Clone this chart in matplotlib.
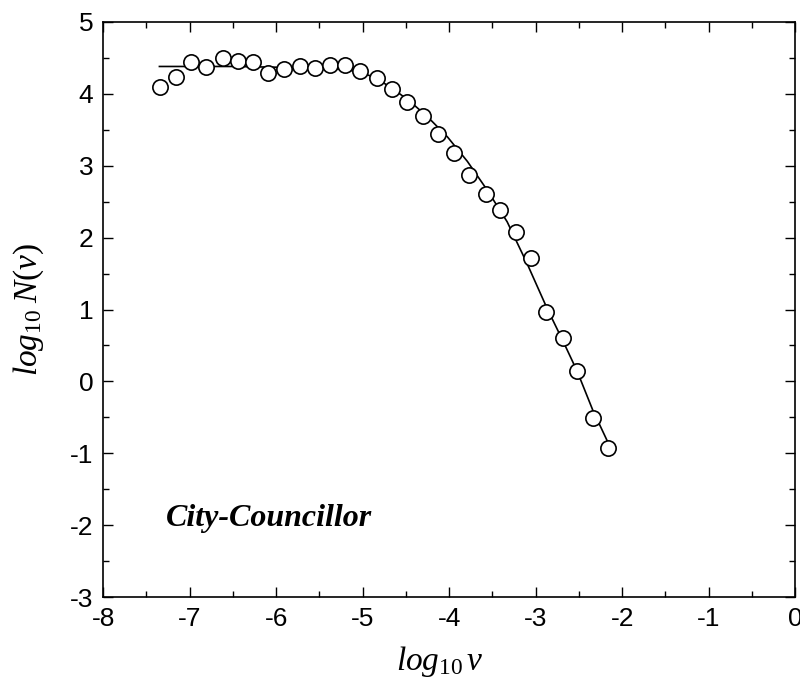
import matplotlib
matplotlib.use("Agg")
import matplotlib.pyplot as plt
from matplotlib.ticker import MultipleLocator

plt.rcParams["font.family"] = "Liberation Sans"
plt.rcParams["axes.unicode_minus"] = False
plt.rcParams["mathtext.fontset"] = "custom"
plt.rcParams["mathtext.it"] = "Liberation Serif:italic"
plt.rcParams["mathtext.rm"] = "Liberation Serif"

# binned vote distribution (open circles)
log_v = [-7.34, -7.16, -6.98, -6.81, -6.62, -6.44, -6.27, -6.09, -5.91, -5.72,
         -5.55, -5.38, -5.20, -5.03, -4.84, -4.66, -4.49, -4.30, -4.13, -3.94,
         -3.77, -3.58, -3.41, -3.23, -3.05, -2.88, -2.69, -2.52, -2.34, -2.16]
log_N = [4.10, 4.24, 4.44, 4.37, 4.50, 4.45, 4.44, 4.29, 4.35, 4.39,
         4.36, 4.40, 4.40, 4.32, 4.22, 4.07, 3.89, 3.69, 3.44, 3.18,
         2.87, 2.61, 2.39, 2.08, 1.72, 0.97, 0.61, 0.14, -0.51, -0.92]

# fitted curve
fit_x = [-7.35, -6.5, -6.0, -5.5, -5.2, -5.0, -4.85, -4.65, -4.45, -4.25,
         -4.02, -3.79, -3.56, -3.33, -3.10, -2.87, -2.68, -2.52, -2.34, -2.16]
fit_y = [4.38, 4.38, 4.37, 4.36, 4.34, 4.29, 4.22, 4.07, 3.89, 3.68,
         3.40, 3.06, 2.66, 2.22, 1.64, 1.02, 0.55, 0.14, -0.40, -0.86]

fig = plt.figure(figsize=(8, 6.84), dpi=100)
ax = fig.add_axes([0.129, 0.127, 0.865, 0.841])

ax.plot(fit_x, fit_y, color="black", lw=1.2)
ax.plot(log_v, log_N, "o", mfc="white", mec="black", ms=11, mew=1.2)

ax.set_xlim(-8, 0)
ax.set_ylim(-3, 5)
ax.xaxis.set_major_locator(MultipleLocator(1))
ax.xaxis.set_minor_locator(MultipleLocator(0.5))
ax.yaxis.set_major_locator(MultipleLocator(1))
ax.yaxis.set_minor_locator(MultipleLocator(0.5))
ax.tick_params(which="both", direction="in", top=True, right=True, width=1)
ax.tick_params(which="major", length=7, labelsize=19, pad=7)
ax.tick_params(which="minor", length=4)
for s in ax.spines.values():
    s.set_linewidth(1.2)

ax.set_xlabel(r"$log_{\mathit{10}}\,v$", fontsize=24)
ax.set_ylabel(r"$log_{\mathit{10}}\;N(v)$", fontsize=24)
ax.xaxis.set_label_coords(0.487, -0.082)
ax.yaxis.set_label_coords(-0.082, 0.5)

ax.text(-7.27, -1.91, "City-Councillor", family="Liberation Serif",
        style="italic", weight="bold", fontsize=23, va="center")

fig.savefig("out.png", dpi=100)
